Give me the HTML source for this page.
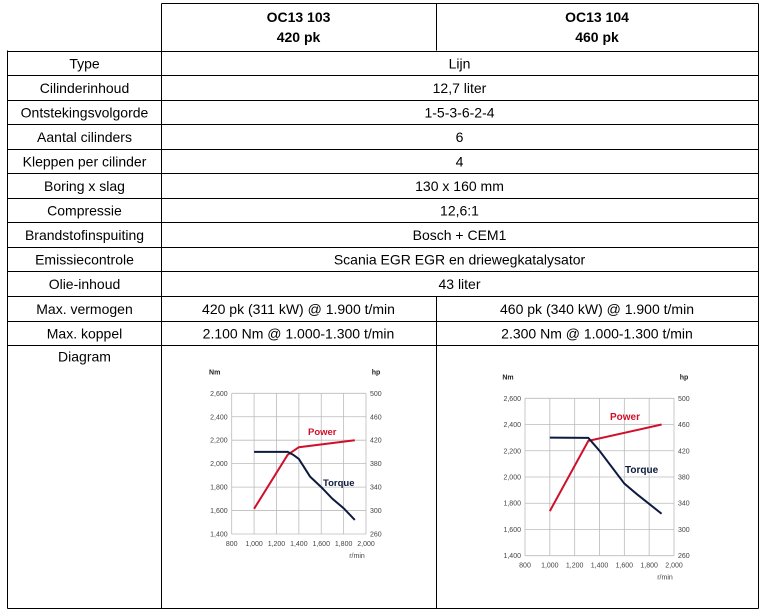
<!DOCTYPE html>
<html><head><meta charset="utf-8"><style>
html,body{margin:0;padding:0;background:#fff;}
svg{display:block;}
.t{font-family:"Liberation Sans",Arial,sans-serif;font-size:14px;fill:#000;}
.b{font-weight:bold;}
.s{font-family:"Liberation Sans",Arial,sans-serif;font-size:7px;fill:#444;}
.sb{font-family:"Liberation Sans",Arial,sans-serif;font-size:7px;font-weight:bold;fill:#222;}
</style></head><body>
<svg id="s" width="764" height="611" xmlns="http://www.w3.org/2000/svg"></svg>
<script>
var s=document.getElementById('s'),h='';
function L(x1,y1,x2,y2,c,w){h+='<line x1="'+x1+'" y1="'+y1+'" x2="'+x2+'" y2="'+y2+'" stroke="'+(c||'#000')+'" stroke-width="'+(w||1)+'"/>';}
function T(x,y,t,cl,a){h+='<text x="'+x+'" y="'+y+'" class="'+cl+'" text-anchor="'+(a||'middle')+'">'+t+'</text>';}
L(161.5,3.5,758.5,3.5);L(161.5,3.5,161.5,608.5);L(758.5,3.5,758.5,608.5);L(436.5,3.5,436.5,50.5);
L(7.5,50.5,7.5,608.5);L(7.5,608.5,758.5,608.5);
var rows=[];for(var i=0;i<=12;i++){var y=Math.round(50.5+i*24.55)+0.5;rows.push(y);L(7.5,y,758.5,y);}
L(436.5,rows[10],436.5,608.5);
T(298.5,22,'OC13 103','t b');T(298.5,42,'420 pk','t b');
T(597,22,'OC13 104','t b');T(597,42,'460 pk','t b');
var lab=['Type','Cilinderinhoud','Ontstekingsvolgorde','Aantal cilinders','Kleppen per cilinder','Boring x slag','Compressie','Brandstofinspuiting','Emissiecontrole','Olie-inhoud','Max. vermogen','Max. koppel','Diagram'];
var val=['Lijn','12,7 liter','1-5-3-6-2-4','6','4','130 x 160 mm','12,6:1','Bosch + CEM1','Scania EGR EGR en driewegkatalysator','43 liter'];
for(var i=0;i<13;i++){var y=(i<12?(rows[i]+rows[i+1])/2+5:rows[12]+16);T(84.5,y,lab[i],'t');if(i<10)T(459.5,y,val[i],'t');}
T(298.5,(rows[10]+rows[11])/2+5,'420 pk (311 kW) @ 1.900 t/min','t');
T(597,(rows[10]+rows[11])/2+5,'460 pk (340 kW) @ 1.900 t/min','t');
T(298.5,(rows[11]+rows[12])/2+5,'2.100 Nm @ 1.000-1.300 t/min','t');
T(597,(rows[11]+rows[12])/2+5,'2.300 Nm @ 1.000-1.300 t/min','t');
function chart(x0,x1,y0,y1,tq,pw){
 var X=function(r){return x0+(r-800)/1200*(x1-x0)},Y=function(v){return y1-(v-1400)/1200*(y1-y0)},H=function(v){return y1-(v-260)/240*(y1-y0)};
 for(var r=800;r<=2000;r+=200)L(X(r),y0,X(r),y1,'#bbb',0.8);
 for(var v=1400;v<=2600;v+=200)L(x0,Y(v),x1,Y(v),'#bbb',0.8);
 for(var v=1400;v<=2600;v+=200)T(x0-4,Y(v)+2.5,v.toLocaleString('en-US'),'s','end');
 for(var v=260;v<=500;v+=40)T(x1+4,H(v)+2.5,v,'s','start');
 for(var r=800;r<=2000;r+=200)T(X(r),y1+12,r.toLocaleString('en-US'),'s');
 T(x1-9,y1+24,'r/min','s');
 T(x0-17,y0-19,'Nm','sb');T(x1+10,y0-19,'hp','sb');
 var p=pw.map(function(a){return X(a[0])+','+H(a[1])}).join(' ');
 h+='<polyline points="'+p+'" fill="none" stroke="#d0102a" stroke-width="2"/>';
 var q=tq.map(function(a){return X(a[0])+','+Y(a[1])}).join(' ');
 h+='<polyline points="'+q+'" fill="none" stroke="#0d1a40" stroke-width="2"/>';
}
chart(231.7,366,393.3,534,[[1000,2100],[1300,2100],[1350,2075],[1400,2040],[1500,1890],[1600,1800],[1700,1700],[1800,1620],[1900,1520]],[[1000,303],[1300,395],[1400,408],[1900,420]]);
chart(525,674,398.3,555.7,[[1000,2300],[1310,2298],[1400,2200],[1600,1950],[1700,1870],[1900,1720]],[[1000,328],[1310,435],[1900,460]]);
var F='font-family:Liberation Sans,Arial,sans-serif;font-weight:bold;';
h+='<text x="308" y="435" style="'+F+'font-size:9.5px;fill:#d0102a">Power</text>';
h+='<text x="323" y="486" style="'+F+'font-size:9.5px;fill:#0d1a40">Torque</text>';
h+='<text x="610" y="420" style="'+F+'font-size:10px;fill:#d0102a">Power</text>';
h+='<text x="625" y="473" style="'+F+'font-size:10px;fill:#0d1a40">Torque</text>';
s.innerHTML=h;
</script>
</body></html>
